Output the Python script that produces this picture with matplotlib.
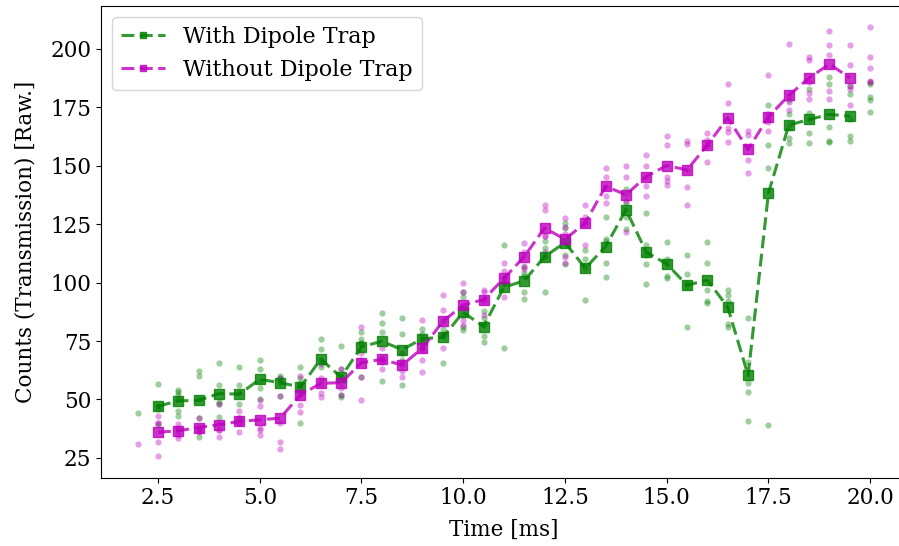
import numpy as np
import matplotlib
matplotlib.use("Agg")
import matplotlib.pyplot as plt

plt.rcParams["font.family"] = "DejaVu Serif"

# time points of the repeated shots
times = np.arange(2.0, 20.01, 0.5)

# individual shots, one list per time point
with_trap_shots = [
    [44],
    [56.5, 47, 46, 39, 47],
    [54, 52, 50, 45, 43, 53],
    [62, 60, 50, 42, 34],
    [65.7, 56.2, 49, 48, 42.7],
    [64, 56, 52.6, 48, 42],
    [66.8, 63.2, 58, 55, 50],
    [59.3, 58, 57, 60, 51.6],
    [64, 59, 57, 56, 40],
    [75.7, 71.7, 67, 64, 58],
    [73, 63, 59, 52, 51],
    [79, 76, 74, 74, 59.5],
    [86.9, 82.7, 78.8, 68, 57.9],
    [84.8, 77.8, 70, 67, 56.2],
    [80, 78, 76, 74, 72],
    [84, 80, 77, 77, 65.7],
    [96, 94, 86, 81, 79.8],
    [88, 85, 82, 77, 74.6],
    [116, 102, 100, 100, 72],
    [106.8, 104, 103, 96, 93],
    [118, 115, 112, 111, 95.8],
    [125.6, 123.5, 117, 112, 108],
    [113.8, 110, 107, 106, 92.7],
    [128, 118.5, 118, 108.6, 102.6],
    [140, 134, 131, 128, 123],
    [129.8, 116.1, 112, 107.9, 99.4],
    [117.5, 110, 108, 103, 101.8],
    [111.7, 103.6, 100, 98, 81.0],
    [117.5, 108.6, 96.9, 91.1, 92],
    [96.9, 94.7, 92, 82.4, 81.0],
    [84.8, 66, 57, 53, 40.6],
    [175.9, 169.5, 158.9, 149.0, 38.9],
    [178, 172, 166, 161.7, 159.6],
    [182.7, 172.6, 170, 163.8, 159.8],
    [187.9, 185.1, 166.7, 160.6, 160],
    [184.1, 180.5, 170, 162.7, 160.7],
    [185.8, 179.4, 178.0, 173.0, 185.1],
]

without_trap_shots = [
    [31],
    [43, 40, 40, 31.7, 25.7],
    [39.6, 38, 37, 34.9, 33.5],
    [42, 38.4, 37, 36.6, 36],
    [48, 40, 37, 33.9, 37],
    [45, 42, 40, 40, 36],
    [49.8, 47.0, 38.0, 34.9, 37],
    [59.3, 51.6, 40, 31.7, 29.0],
    [60, 55, 52, 47.7, 44.8],
    [65, 59, 56.2, 52.6, 51.2],
    [63, 59, 57, 51.9, 55],
    [81, 70, 67, 59.5, 49.8],
    [72, 66.8, 66, 63.0, 67.5],
    [70, 66, 64.7, 62, 59.7],
    [83.8, 72, 71.3, 66.8, 61.8],
    [94.7, 88.3, 83, 78, 72],
    [99.7, 96, 90, 84, 82],
    [96.8, 96, 93, 86, 92],
    [108.2, 104.8, 102, 100, 93.7],
    [117, 113, 112, 107, 106],
    [133.1, 131.0, 120, 119.9, 113],
    [127.7, 124, 121, 111, 108.2],
    [133.1, 128, 126, 125, 116.1],
    [149, 145, 141, 137, 134],
    [150, 145, 138, 135, 121.6],
    [154.6, 150, 145, 141.2, 136.9],
    [162.7, 158.9, 145, 143.3, 141.9],
    [160.7, 159.3, 148, 140.9, 133.1],
    [163.8, 161, 159, 158.6, 151.5],
    [185.1, 177.0, 166, 164.5, 160.0],
    [164.9, 163.1, 158, 152.5, 146.8],
    [188.9, 172, 170, 168.8, 165],
    [202.1, 180, 177.3, 173.7, 168],
    [196.7, 195.3, 178.4, 186, 181],
    [207.7, 201.8, 197.5, 182.0, 178.4],
    [201.8, 193.1, 184.1, 175.9, 183],
    [209.2, 196.7, 191.9, 185.8, 186.1],
]

# averaged counts (2.5 ms .. 19.5 ms)
mean_times = times[1:-1]
with_trap_mean = [
    47.1, 49.4, 49.6, 52.5, 52.3, 58.6, 57.2, 55.3, 67.2, 59.6,
    72.5, 74.9, 71.3, 76.0, 76.6, 87.3, 81.2, 98.0, 100.8, 111.1,
    117.1, 106.2, 115.4, 131.2, 113.0, 108.0, 98.9, 101.1, 89.5, 60.3,
    138.3, 167.4, 169.8, 172.0, 171.2,
]
without_trap_mean = [
    36.0, 36.6, 38.0, 39.2, 40.6, 41.3, 42.0, 51.9, 56.9, 57.2,
    65.7, 67.2, 64.7, 72.0, 83.4, 90.4, 92.7, 101.8, 111.1, 123.4,
    118.5, 125.6, 141.2, 137.6, 145.4, 150.1, 148.2, 158.9, 170.5, 157.0,
    170.9, 180.1, 187.6, 193.5, 187.6,
]

fs = 15.5

fig = plt.figure(figsize=(8.99, 5.46), dpi=100)
ax = fig.add_axes([0.1123, 0.1251, 0.8964, 0.864])

for shots, color in [(with_trap_shots, "green"), (without_trap_shots, "m")]:
    xs = np.concatenate([[t] * len(s) for t, s in zip(times, shots)])
    ys = np.concatenate(shots)
    ax.plot(xs, ys, "o", color=color, alpha=0.38, markersize=4.5, markeredgewidth=0)

ax.plot(mean_times, with_trap_mean, "s--", color="green", alpha=0.8,
        lw=2.2, markersize=6.5, dashes=(4.2, 1.8), label="With Dipole Trap")
ax.plot(mean_times, without_trap_mean, "s--", color="m", alpha=0.8,
        lw=2.2, markersize=6.5, dashes=(4.2, 1.8), label="Without Dipole Trap")

ax.set_xlabel("Time [ms]", fontsize=fs, labelpad=7)
ax.set_ylabel("Counts (Transmission) [Raw.]", fontsize=fs, labelpad=10)
ax.tick_params(labelsize=fs)
ax.legend(loc="upper left", fontsize=16, markerscale=0.6)

fig.savefig("out.png", dpi=100)
